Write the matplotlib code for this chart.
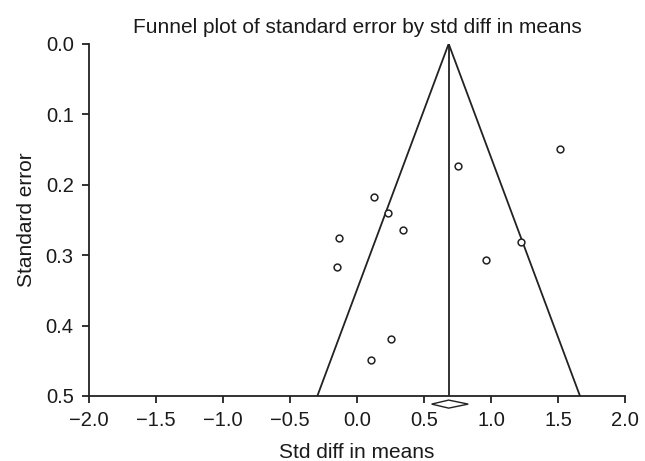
import matplotlib
matplotlib.use("Agg")
import matplotlib.pyplot as plt
import numpy as np

plt.rcParams['font.family'] = ['Liberation Sans', 'DejaVu Sans']

std_diff = [1.517, 0.751, 0.127, 0.231, 0.346, -0.132, 1.221, 0.965, -0.152, 0.251, 0.107]
std_err = [0.150, 0.173, 0.217, 0.240, 0.265, 0.275, 0.282, 0.307, 0.317, 0.419, 0.449]
pooled = 0.684
pooled_lo = 0.557
pooled_hi = 0.830
se_max = 0.5
x_ticks = [-2.0, -1.5, -1.0, -0.5, 0.0, 0.5, 1.0, 1.5, 2.0]
y_ticks = [0.0, 0.1, 0.2, 0.3, 0.4, 0.5]

fig = plt.figure(figsize=(6.45, 4.61), dpi=100)
ax = fig.add_axes([0.138, 0.141, 0.831, 0.764])

# funnel
ax.plot([pooled - 1.96 * se_max, pooled, pooled + 1.96 * se_max], [se_max, 0, se_max],
        color='#222222', lw=1.3, solid_joinstyle='miter')
ax.plot([pooled, pooled], [0, se_max], color='#222222', lw=1.3)

ax.scatter(std_diff, std_err, s=24, facecolors='white', edgecolors='#222222', linewidths=1.1, zorder=3)

# diamond below axis
dh = 0.0057
yc = se_max + 0.0115
ax.fill([pooled_lo, pooled, pooled_hi, pooled],
        [yc, yc - dh, yc, yc + dh],
        facecolor='white', edgecolor='#222222', lw=1.0, clip_on=False, zorder=4)

ax.set_xlim(-2, 2)
ax.set_ylim(0.5, 0)
ax.set_xticks(x_ticks)
ax.set_yticks(y_ticks)
ax.set_xticklabels([f"{v:.1f}".replace('-', '\u2212') for v in x_ticks])
ax.set_yticklabels([f"{v:.1f}" for v in y_ticks])
ax.spines['top'].set_visible(False)
ax.spines['right'].set_visible(False)
for s in ['left', 'bottom']:
    ax.spines[s].set_color('#222222')
    ax.spines[s].set_linewidth(1.3)
ax.tick_params(axis='both', direction='out', length=5, width=1.3, color='#222222',
               labelsize=14.5, labelcolor='#1a1a1a')
ax.tick_params(axis='x', pad=6)
ax.tick_params(axis='y', pad=6)

ax.set_xlabel('Std diff in means', fontsize=15, color='#1a1a1a', labelpad=9)
ax.set_ylabel('Standard error', fontsize=15, color='#1a1a1a', labelpad=7)
ax.set_title('Funnel plot of standard error by std diff in means', fontsize=15,
             color='#1a1a1a', pad=8)

fig.savefig('out.png', dpi=100)
